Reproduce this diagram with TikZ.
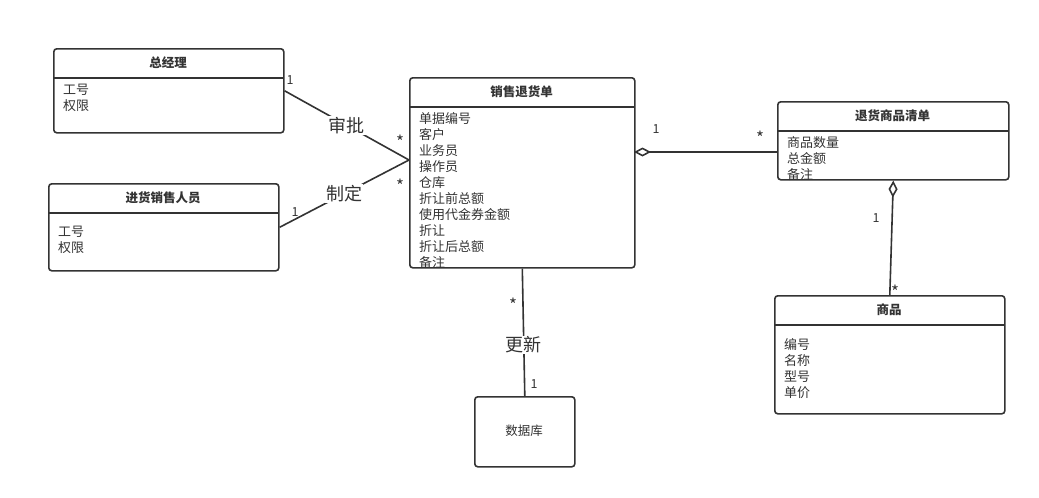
\documentclass[tikz,border=0pt]{standalone}
\usepackage{fontspec}
\setmainfont{Noto Sans CJK SC}
\usetikzlibrary{arrows.meta}
\definecolor{ink}{HTML}{333333}
\begin{document}
\begin{tikzpicture}[x=1pt,y=-1pt,
  classbox/.style={draw=ink,line width=1.6pt,rounded corners=3pt,fill=white,anchor=north west,inner sep=0pt},
  title/.style={text=ink,font=\fontsize{12.5}{14}\selectfont\bfseries},
  attrs/.style={text=ink,anchor=north west,align=left,inner sep=0pt,font=\fontsize{13}{16}\selectfont},
  rel/.style={draw=ink,line width=1.6pt},
  verb/.style={text=ink,fill=white,inner sep=1pt,font=\fontsize{18}{20}\selectfont},
  mult/.style={text=ink,inner sep=0pt,font=\fontsize{12.5}{14}\selectfont},
  star/.style={text=ink,inner sep=0pt,font=\fontsize{17}{18}\selectfont},
  agg/.style={-{Diamond[open,length=17pt,width=9pt,line width=1.6pt]}}
]
\useasboundingbox (0,0) rectangle (1039,498);
\fill[white] (0,0) rectangle (1039,498);

% class boxes
\node[classbox,minimum width=230pt,minimum height=84pt] (gm) at (53,48) {};
\draw[ink,line width=1.6pt] (53,78) -- (283,78);
\node[title] (gmT) at (168,63) {总经理};
\node[attrs] (gmA) at (63,84) {工号\\权限};

\node[classbox,minimum width=230pt,minimum height=87pt] (sp) at (48,183) {};
\draw[ink,line width=1.6pt] (48,213) -- (278,213);
\node[title] (spT) at (163,198) {进货销售人员};
\node[attrs] (spA) at (58,226) {工号\\权限};

\node[classbox,minimum width=225pt,minimum height=190pt] (sr) at (409,77) {};
\draw[ink,line width=1.6pt] (409,107) -- (634,107);
\node[title] (srT) at (521.5,92) {销售退货单};
\node[attrs] (srA) at (419,112) {单据编号\\客户\\业务员\\操作员\\仓库\\折让前总额\\使用代金券金额\\折让\\折让后总额\\备注};

\node[classbox,minimum width=231pt,minimum height=78pt] (ls) at (777,101) {};
\draw[ink,line width=1.6pt] (777,131) -- (1008,131);
\node[title] (lsT) at (892.5,116) {退货商品清单};
\node[attrs] (lsA) at (787,136) {商品数量\\总金额\\备注};

\node[classbox,minimum width=230pt,minimum height=118pt] (pr) at (774,295) {};
\draw[ink,line width=1.6pt] (774,325) -- (1004,325);
\node[title] (prT) at (889,310) {商品};
\node[attrs] (prA) at (784,338) {编号\\名称\\型号\\单价};

\node[classbox,minimum width=100pt,minimum height=70pt] (db) at (474,396) {};
\node[text=ink,font=\fontsize{12.5}{14}\selectfont] (dbT) at (524,431) {数据库};

% connection points
\coordinate (srIn) at (409,160);
\coordinate (srOut) at (634,152);

% associations
\draw[rel] (gm.east) -- (srIn) node[verb,pos=0.5] (v1) {审批};
\draw[rel] (sp.east) -- (srIn) node[verb,pos=0.5] (v2) {制定};
\draw[rel] (sr.south) -- (db.north) node[verb,pos=0.6] (v3) {更新};

% aggregations
\draw[rel,agg] (ls.west |- srOut) -- (srOut);
\draw[rel,agg] (pr.north) -- (ls.south);

% multiplicities
\node[mult] (m1) at (290,80) {1};
\node[star] (m2) at (400,142) {*};
\node[mult] (m3) at (295,212) {1};
\node[star] (m4) at (400,186) {*};
\node[mult] (m5) at (656,129) {1};
\node[star] (m6) at (760,138) {*};
\node[mult] (m7) at (876,218) {1};
\node[star] (m8) at (895,292) {*};
\node[mult] (m10) at (534,384) {1};
\node[star] (m9) at (513,305) {*};
\end{tikzpicture}
\end{document}
